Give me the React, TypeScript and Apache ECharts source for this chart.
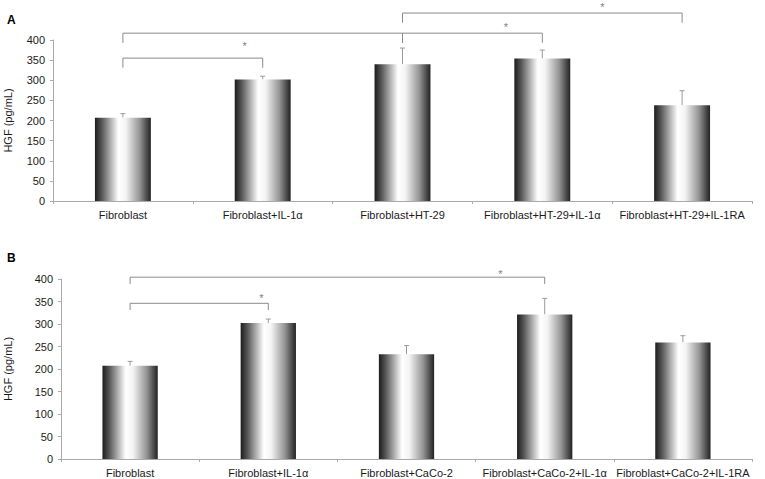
import React, { useEffect, useRef } from "react";
import * as echarts from "echarts";

const categoriesA = ["Fibroblast", "Fibroblast+IL-1α", "Fibroblast+HT-29", "Fibroblast+HT-29+IL-1α", "Fibroblast+HT-29+IL-1RA"];
const valuesA = [207, 302, 340, 354, 238];
const errTopA = [217, 310, 380, 375, 274];
// brackets: [fromIndex, toIndex, level]
const bracketsA = [[0, 1, 355], [0, 2, 417], [2, 3, 417], [2, 4, 467]];
// stars: [x position in category units, level]
const starsA = [[0.87, 390], [2.74, 437], [3.43, 486]];

const categoriesB = ["Fibroblast", "Fibroblast+IL-1α", "Fibroblast+CaCo-2", "Fibroblast+CaCo-2+IL-1α", "Fibroblast+CaCo-2+IL-1RA"];
const valuesB = [207, 302, 233, 321, 259];
const errTopB = [217, 311, 252, 357, 274];
const bracketsB = [[0, 1, 346], [0, 3, 404]];
const starsB = [[0.95, 363], [2.68, 415]];

const yTicks = { min: 0, max: 400, interval: 50 };

const barGradient = () =>
  new echarts.graphic.LinearGradient(0, 0, 1, 0, [
    { offset: 0, color: "#1c1c1c" },
    { offset: 0.12, color: "#555555" },
    { offset: 0.42, color: "#ffffff" },
    { offset: 0.55, color: "#f4f4f4" },
    { offset: 0.8, color: "#949494" },
    { offset: 1, color: "#222222" },
  ]);

function errorSeries(axis: number, means: number[], tops: number[]) {
  return {
    type: "custom",
    xAxisIndex: axis,
    yAxisIndex: axis,
    clip: false,
    silent: true,
    encode: { x: 0, y: 1 },
    data: means.map((m, i) => [i, m, tops[i]]),
    renderItem: (params: any, api: any) => {
      const p0 = api.coord([api.value(0), api.value(1)]);
      const p1 = api.coord([api.value(0), api.value(2)]);
      const style = { stroke: "#9a9a9a", lineWidth: 1 };
      return {
        type: "group",
        children: [
          { type: "line", shape: { x1: p0[0], y1: p0[1], x2: p1[0], y2: p1[1] }, style },
          { type: "line", shape: { x1: p1[0] - 2.5, y1: p1[1], x2: p1[0] + 2.5, y2: p1[1] }, style },
        ],
      };
    },
  };
}

function bracketSeries(axis: number, brackets: number[][], drop: number) {
  return {
    type: "custom",
    xAxisIndex: axis,
    yAxisIndex: axis,
    clip: false,
    silent: true,
    encode: { x: 0, y: 2 },
    data: brackets.map((b) => [b[0], b[1], b[2]]),
    renderItem: (params: any, api: any) => {
      const a = api.coord([api.value(0), api.value(2)]);
      const b = api.coord([api.value(1), api.value(2)]);
      const d = api.coord([api.value(0), api.value(2) - drop]);
      const style = { stroke: "#8a8a8a", lineWidth: 1 };
      return {
        type: "group",
        children: [
          { type: "line", shape: { x1: a[0], y1: a[1], x2: b[0], y2: b[1] }, style },
          { type: "line", shape: { x1: a[0], y1: a[1], x2: a[0], y2: d[1] }, style },
          { type: "line", shape: { x1: b[0], y1: b[1], x2: b[0], y2: d[1] }, style },
        ],
      };
    },
  };
}

function starSeries(axis: number, stars: number[][]) {
  return {
    type: "custom",
    xAxisIndex: axis,
    yAxisIndex: axis,
    clip: false,
    silent: true,
    encode: { x: 0, y: 1 },
    data: stars.map((s) => [Math.floor(s[0]), s[1], s[0] - Math.floor(s[0])]),
    renderItem: (params: any, api: any) => {
      const p = api.coord([api.value(0), api.value(1)]);
      const bw = api.size([1, 0])[0];
      return {
        type: "text",
        x: p[0] + api.value(2) * bw,
        y: p[1] + 2,
        style: {
          text: "*",
          fill: "#808080",
          fontSize: 11,
          fontFamily: "Liberation Sans, Arial, sans-serif",
          align: "center",
          verticalAlign: "middle",
        },
      };
    },
  };
}

export default function App() {
  const ref = useRef<HTMLDivElement>(null);
  useEffect(() => {
    if (!ref.current) return;
    const chart = echarts.init(ref.current, null, { renderer: "svg" });
    const font = "Liberation Sans, Arial, sans-serif";
    const xAxisBase = (cats: string[], gi: number) => ({
      type: "category",
      gridIndex: gi,
      data: cats,
      axisLine: { lineStyle: { color: "#aaaaaa", width: 1 } },
      axisTick: { show: true, length: 3, lineStyle: { color: "#aaaaaa" } },
      axisLabel: { interval: 0, color: "#1a1a1a", fontSize: 11, fontFamily: font, margin: 8 },
      splitLine: { show: false },
    });
    const yAxisBase = (gi: number, gap: number) => ({
      type: "value",
      gridIndex: gi,
      min: yTicks.min,
      max: yTicks.max,
      interval: yTicks.interval,
      name: "HGF (pg/mL)",
      nameLocation: "middle",
      nameGap: gap,
      nameRotate: 90,
      nameTextStyle: { color: "#1a1a1a", fontSize: 11, fontFamily: font },
      axisLine: { show: true, lineStyle: { color: "#aaaaaa", width: 1 } },
      axisTick: { show: true, length: 3, lineStyle: { color: "#aaaaaa" } },
      axisLabel: { color: "#1a1a1a", fontSize: 11, fontFamily: font, margin: 8 },
      splitLine: { show: false },
    });
    chart.setOption({
      animation: false,
      backgroundColor: "#ffffff",
      grid: [
        { left: 53, top: 40, width: 699, height: 161, outerBoundsMode: "none", containLabel: false },
        { left: 61, top: 279, width: 691, height: 180, outerBoundsMode: "none", containLabel: false },
      ],
      xAxis: [xAxisBase(categoriesA, 0), xAxisBase(categoriesB, 1)],
      yAxis: [yAxisBase(0, 40), yAxisBase(1, 48)],
      graphic: [
        { type: "text", left: 7, top: 14, style: { text: "A", fontSize: 12, fontWeight: "bold", fontFamily: font, fill: "#000" } },
        { type: "text", left: 7, top: 252, style: { text: "B", fontSize: 12, fontWeight: "bold", fontFamily: font, fill: "#000" } },
      ],
      series: [
        {
          type: "bar",
          xAxisIndex: 0,
          yAxisIndex: 0,
          barWidth: "40%",
          data: valuesA,
          itemStyle: { color: barGradient() },
        },
        {
          type: "bar",
          xAxisIndex: 1,
          yAxisIndex: 1,
          barWidth: "40%",
          data: valuesB,
          itemStyle: { color: barGradient() },
        },
        errorSeries(0, valuesA, errTopA),
        errorSeries(1, valuesB, errTopB),
        bracketSeries(0, bracketsA, 24),
        bracketSeries(1, bracketsB, 15),
        starSeries(0, starsA),
        starSeries(1, starsB),
      ],
    });
    return () => chart.dispose();
  }, []);
  return <div ref={ref} style={{ position: "absolute", left: 0, top: 0, width: 765, height: 479 }} />;
}
